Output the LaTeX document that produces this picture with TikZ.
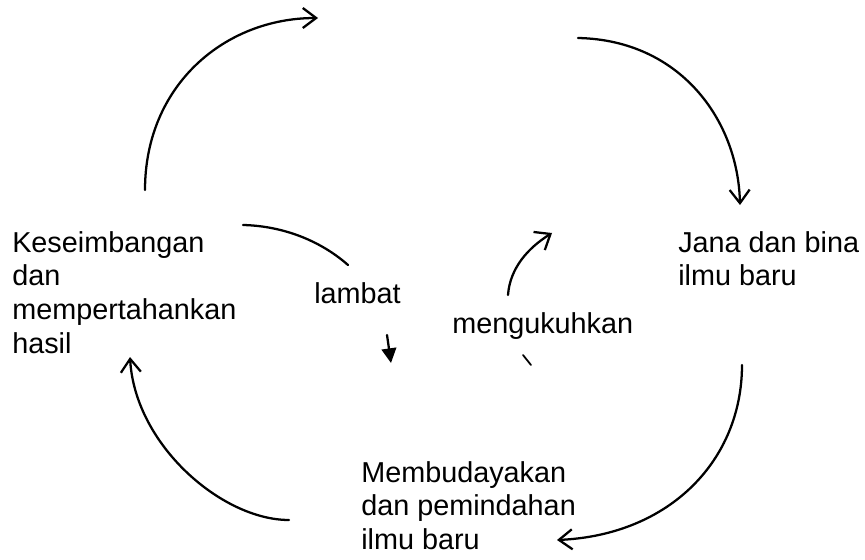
\documentclass[tikz,border=0pt]{standalone}
\usepackage{fontspec}
\setmainfont{Liberation Sans}
\usetikzlibrary{arrows.meta}
\newcommand{\txtblk}[1]{\begin{tabular}[t]{@{}l@{}}#1\end{tabular}}
\begin{document}
\begin{tikzpicture}[x=0.75pt,y=-0.75pt,
  conn/.style={line width=1.7pt, line cap=round},
  openhead/.style={conn, -{Straight Barb[length=10pt,width=15pt]}},
  lbl/.style={inner sep=0pt, anchor=base west, font=\fontsize{21.6pt}{25.3pt}\selectfont}]
\useasboundingbox (0,0) rectangle (865,560);
% text blocks
\node[lbl] (keseimbangan) at (12,252) {\txtblk{Keseimbangan\\dan\\mempertahankan\\hasil}};
\node[lbl] (jana) at (678,252) {\txtblk{Jana dan bina\\ilmu baru}};
\node[lbl] (membudayakan) at (361,482) {\txtblk{Membudayakan\\dan pemindahan\\ilmu baru}};
\node[lbl] (lambat) at (314,303) {lambat};
\node[lbl] (mengukuhkan) at (452,333) {mengukuhkan};
% outer cycle
\coordinate (tlS) at (145,190); \coordinate (tlE) at (318,18);
\draw[openhead] (tlS) .. controls (145,85) and (225,18) .. (tlE);
\coordinate (trS) at (578,38); \coordinate (trE) at (740,205);
\draw[openhead] (trS) .. controls (680,40) and (738,120) .. (trE);
\coordinate (brS) at (742,365); \coordinate (brE) at (557,540);
\draw[openhead] (brS) .. controls (742,460) and (670,535) .. (brE);
\coordinate (blS) at (289,520); \coordinate (blE) at (130,357);
\draw[openhead] (blS) .. controls (222,520) and (135,445) .. (blE);
% centre
\coordinate (lamS) at (243,225); \coordinate (lamE) at (348,265);
\draw[conn] (lamS) .. controls (285,226) and (322,242) .. (lamE);
\coordinate (lamA) at (387,335); \coordinate (lamB) at (391,363);
\draw[conn, -{Triangle[length=11pt,width=11pt]}] (lamA) -- (lamB);
\coordinate (menS) at (508,295); \coordinate (menE) at (552,233);
\draw[conn, -{Straight Barb[length=10pt,width=16pt]}] (menS) .. controls (510,268) and (528,248) .. (menE);
\coordinate (tickA) at (523,355); \coordinate (tickB) at (531,365);
\draw[conn, line width=1.3pt] (tickA) -- (tickB);
\end{tikzpicture}
\end{document}
